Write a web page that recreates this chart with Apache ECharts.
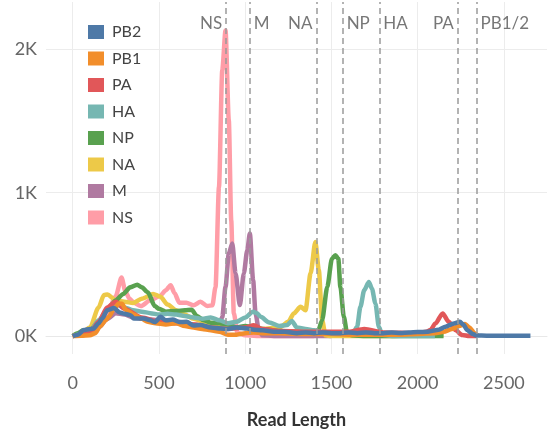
<!DOCTYPE html>
<html>
<head>
<meta charset="utf-8">
<script src="https://cdn.jsdelivr.net/npm/echarts@6/dist/echarts.min.js"></script>
<style>
  html, body { margin: 0; padding: 0; background: #fff; }
  #chart { width: 550px; height: 429px; }
</style>
</head>
<body>
<div id="chart"></div>
<script>
  // read length (nt) / read count pairs
  var pb2 = [[0,0],[30,10],[64,42],[100,50],[122,53],[150,90],[171,123],[200,181],[239,195],[273,164],[300,155],[335,146],[354,123],[412,123],[450,110],[476,98],[509,134],[540,110],[580,115],[618,98],[660,100],[700,74],[741,77],[800,60],[857,53],[900,50],[950,60],[1011,53],[1050,45],[1100,40],[1166,30],[1230,30],[1300,20],[1350,25],[1400,20],[1450,25],[1500,20],[1550,20],[1600,25],[1650,20],[1700,25],[1750,20],[1800,20],[1850,25],[1900,22],[1950,25],[2000,28],[2060,30],[2122,45],[2161,65],[2210,88],[2245,100],[2265,80],[2287,42],[2320,15],[2341,4],[2400,3],[2500,3],[2600,3],[2654,3]]
  var pb1 = [[0,0],[50,2],[100,5],[130,20],[160,70],[190,110],[209,134],[240,190],[267,228],[285,225],[310,180],[354,150],[400,120],[435,100],[480,90],[540,80],[600,90],[650,70],[700,60],[750,50],[800,40],[850,30],[900,10],[950,10],[1000,20],[1050,25],[1100,20],[1200,20],[1300,15],[1400,15],[1500,15],[1600,10],[1700,10],[1800,10],[1900,10],[2000,15],[2100,20],[2150,30],[2200,50],[2240,70],[2275,85],[2300,60],[2330,20],[2350,0]]
  var pa = [[0,0],[100,20],[150,100],[200,200],[250,240],[300,190],[400,130],[500,100],[600,90],[700,80],[800,60],[900,50],[1000,60],[1050,75],[1100,50],[1200,35],[1400,30],[1600,30],[1690,50],[1800,25],[2000,20],[2050,30],[2074,42],[2103,88],[2145,158],[2180,100],[2219,42],[2258,7],[2300,0],[2340,0]]
  var ha = [[0,0],[50,15],[100,30],[150,110],[200,180],[250,220],[300,200],[350,180],[400,170],[450,160],[500,150],[550,155],[600,150],[650,140],[700,130],[750,120],[800,130],[850,110],[900,90],[950,100],[1000,130],[1045,170],[1069,160],[1089,134],[1140,95],[1200,70],[1243,77],[1270,105],[1300,60],[1350,50],[1400,40],[1450,25],[1500,20],[1550,20],[1600,20],[1630,30],[1649,65],[1668,204],[1690,320],[1717,378],[1735,330],[1755,228],[1775,65],[1794,10],[1850,0],[2000,0],[2100,0]]
  var np = [[0,0],[30,20],[60,40],[100,40],[150,100],[200,180],[250,250],[293,294],[333,340],[374,358],[400,340],[435,306],[476,209],[500,190],[540,170],[600,175],[650,180],[689,184],[720,140],[760,110],[801,93],[850,90],[900,80],[950,60],[1000,70],[1050,60],[1100,50],[1200,35],[1300,30],[1400,25],[1424,40],[1446,111],[1476,343],[1503,540],[1523,564],[1540,540],[1552,343],[1572,134],[1591,19],[1620,5],[1700,0],[1800,0],[2000,0],[2150,0]]
  var na = [[0,0],[50,20],[100,60],[150,200],[181,286],[200,290],[250,250],[300,240],[350,230],[400,260],[466,294],[509,274],[550,220],[600,180],[650,150],[700,120],[800,80],[900,60],[1000,60],[1100,50],[1200,60],[1250,100],[1282,158],[1321,204],[1350,181],[1379,437],[1407,657],[1427,460],[1446,111],[1466,5],[1500,0],[1600,0],[1800,0],[2000,5],[2150,5]]
  var m = [[0,0],[50,10],[100,30],[150,60],[200,120],[250,160],[300,150],[350,130],[400,120],[500,110],[600,100],[700,80],[800,60],[850,70],[867,134],[886,343],[905,576],[925,646],[944,439],[969,216],[992,437],[1012,599],[1027,716],[1046,390],[1060,158],[1079,42],[1100,5],[1200,0],[1300,0],[1500,0]]
  var ns = [[0,0],[100,30],[150,80],[200,160],[248,274],[283,408],[306,309],[330,260],[353,233],[395,209],[450,250],[507,281],[540,320],[568,355],[590,300],[618,233],[659,233],[700,215],[741,239],[780,210],[810,215],[828,343],[848,1040],[867,1854],[886,2132],[905,1505],[919,808],[934,160],[955,21],[1000,5],[1100,0],[1200,0],[1400,0]]

  var segNames = ['NS', 'M', 'NA', 'NP', 'HA', 'PA', 'PB1/2']
  var segLengths = [890, 1027, 1413, 1565, 1778, 2233, 2341]
  var segSide = ['left', 'right', 'left', 'right', 'right', 'left', 'right']

  var xTicks = [0, 500, 1000, 1500, 2000, 2500]
  var yTicks = [0, 1000, 2000]

  var legendNames = ['PB2', 'PB1', 'PA', 'HA', 'NP', 'NA', 'M', 'NS']
  var colors = {
    PB2: '#4e79a7', PB1: '#f28e2b', PA: '#e15759', HA: '#76b7b2',
    NP: '#59a14f', NA: '#edc948', M: '#b07aa1', NS: '#ff9da7'
  }
  var seriesData = { PB2: pb2, PB1: pb1, PA: pa, HA: ha, NP: np, NA: na, M: m, NS: ns }

  var font = 'Lato, "Open Sans", sans-serif'

  var chart = echarts.init(document.getElementById('chart'))

  // draw NS first so PB2 ends up on top
  var drawOrder = legendNames.slice().reverse()
  var series = drawOrder.map(function (name) {
    return {
      name: name,
      type: 'line',
      data: seriesData[name],
      showSymbol: false,
      smooth: 0.25,
      smoothMonotone: 'x',
      color: colors[name],
      lineStyle: { width: 4.5, color: colors[name] }
    }
  })

  // dashed segment lines sit on top of the curves
  series[series.length - 1].markLine = {
    silent: true,
    symbol: 'none',
    label: { show: false },
    lineStyle: { color: '#9b9b9b', type: [6, 4], width: 1.5 },
    data: segLengths.map(function (v) { return { xAxis: v } })
  }

  series.push({
    name: 'segments',
    type: 'scatter',
    symbolSize: 0,
    silent: true,
    data: segLengths.map(function (v, i) {
      return {
        value: [v, 2180],
        label: { position: segSide[i], formatter: segNames[i] }
      }
    }),
    label: { show: true, distance: 4, fontSize: 17, color: '#555', fontFamily: font }
  })

  chart.setOption({
    animation: false,
    grid: { left: 46, right: 3, top: 2, bottom: 75, containLabel: false, outerBoundsMode: 'none' },
    legend: {
      data: legendNames,
      orient: 'vertical',
      left: 83,
      top: 19,
      icon: 'rect',
      itemWidth: 16,
      itemHeight: 14,
      itemGap: 10.5,
      textStyle: { fontSize: 16, color: '#444', fontFamily: font, lineHeight: 16, padding: [0, 0, 0, 3] }
    },
    xAxis: {
      type: 'value',
      min: -155,
      max: 2750,
      name: 'Read Length',
      nameLocation: 'middle',
      nameGap: 57,
      nameTextStyle: { fontSize: 18, fontWeight: 'bold', color: '#333', fontFamily: font },
      axisLine: { show: true, lineStyle: { color: '#e8e8e8' } },
      axisTick: { show: false, customValues: xTicks },
      axisLabel: {
        customValues: xTicks,
        fontSize: 18,
        color: '#666',
        margin: 20,
        fontFamily: font,
        formatter: function (v) { return String(v) }
      },
      splitLine: { show: true, lineStyle: { color: '#ececec' } }
    },
    yAxis: {
      type: 'value',
      min: -125,
      max: 2330,
      axisLine: { show: false },
      axisTick: { show: false, customValues: yTicks },
      axisLabel: {
        customValues: yTicks,
        fontSize: 18,
        color: '#666',
        margin: 9,
        fontFamily: font,
        formatter: function (v) { return (v / 1000) + 'K' }
      },
      splitLine: { show: true, lineStyle: { color: '#ececec' } }
    },
    series: series
  })
</script>
</body>
</html>
